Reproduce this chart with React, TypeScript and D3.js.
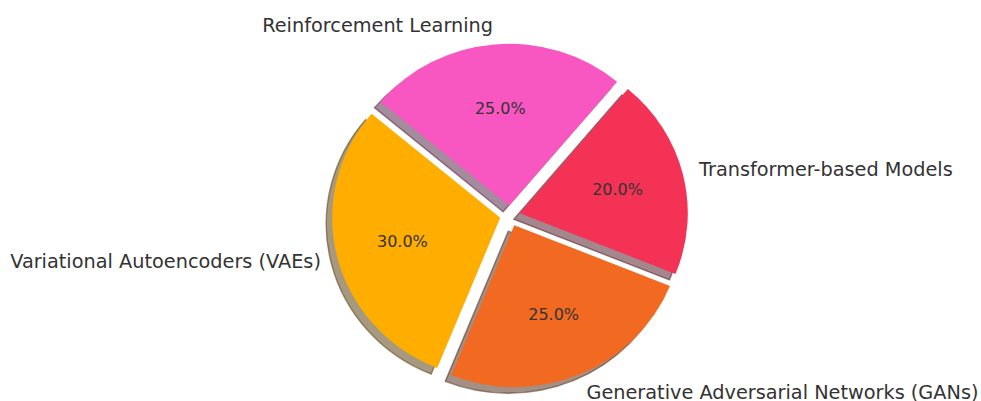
import React from "react";
import * as d3 from "d3";

const labels = [
  "Variational Autoencoders (VAEs)",
  "Generative Adversarial Networks (GANs)",
  "Transformer-based Models",
  "Reinforcement Learning",
];
const sizes = [30, 25, 20, 25];
const colors = ["#FFAE00", "#F26A21", "#F43256", "#F857C1"];
const explode = [0.06, 0.065, 0.06, 0.06];
const startAngleDeg = 140;

const W = 981;
const H = 401;
const CX = 510;
const CY = 215.5;
const RX = 168;
const RY = 162;
const LABEL_RY = 165;
const SHADOW_DX = -6;
const SHADOW_DY = 6;
const LABEL_DIST = 1.1;
const PCT_DIST = 0.6;
const TEXT_COLOR = "#333333";

function shade(c: string) {
  const rgb = d3.rgb(c);
  return d3.rgb(rgb.r * 0.3, rgb.g * 0.3, rgb.b * 0.3).formatHex();
}

export default function App() {
  const total = d3.sum(sizes);
  const pie = d3
    .pie<number>()
    .sort(null)
    .value((d) => d)
    .startAngle(((90 - startAngleDeg) * Math.PI) / 180)
    .endAngle(((90 - startAngleDeg - 360) * Math.PI) / 180);
  const arcs = pie(sizes);
  const arc = d3.arc<d3.PieArcDatum<number>>().innerRadius(0).outerRadius(1);

  const wedges = arcs.map((a, i) => {
    const mid = (a.startAngle + a.endAngle) / 2;
    const ux = Math.sin(mid);
    const uy = -Math.cos(mid);
    const ax = CX + explode[i] * RX * ux;
    const ay = CY + explode[i] * RY * uy;
    return {
      a,
      i,
      ux,
      uy,
      ax,
      ay,
      path: arc(a) as string,
      pct: ((sizes[i] / total) * 100).toFixed(1) + "%",
    };
  });

  return (
    <svg
      width={W}
      height={H}
      style={{ position: "absolute", left: 0, top: 0, background: "#ffffff" }}
      fontFamily="'DejaVu Sans', sans-serif"
    >
      <rect x={0} y={0} width={W} height={H} fill="#ffffff" />
      {wedges.map((w) => (
        <path
          key={"s" + w.i}
          d={w.path}
          transform={`translate(${w.ax + SHADOW_DX},${w.ay + SHADOW_DY}) scale(${RX},${RY})`}
          fill={shade(colors[w.i])}
          fillOpacity={0.5}
          stroke={shade(colors[w.i])}
          strokeOpacity={0.5}
          strokeWidth={1.4}
          vectorEffect="non-scaling-stroke"
        />
      ))}
      {wedges.map((w) => (
        <path
          key={"w" + w.i}
          d={w.path}
          transform={`translate(${w.ax},${w.ay}) scale(${RX},${RY})`}
          fill={colors[w.i]}
        />
      ))}
      {wedges.map((w) => (
        <text
          key={"p" + w.i}
          x={w.ax + PCT_DIST * RX * w.ux}
          y={w.ay + PCT_DIST * RY * w.uy}
          textAnchor="middle"
          dominantBaseline="central"
          fontSize={16}
          fill={TEXT_COLOR}
        >
          {w.pct}
        </text>
      ))}
      {wedges.map((w) => (
        <text
          key={"l" + w.i}
          x={w.ax + LABEL_DIST * RX * w.ux}
          y={w.ay + LABEL_DIST * LABEL_RY * w.uy}
          textAnchor={w.ux > 0 ? "start" : "end"}
          dominantBaseline="central"
          fontSize={19.3}
          fill={TEXT_COLOR}
        >
          {labels[w.i]}
        </text>
      ))}
    </svg>
  );
}
